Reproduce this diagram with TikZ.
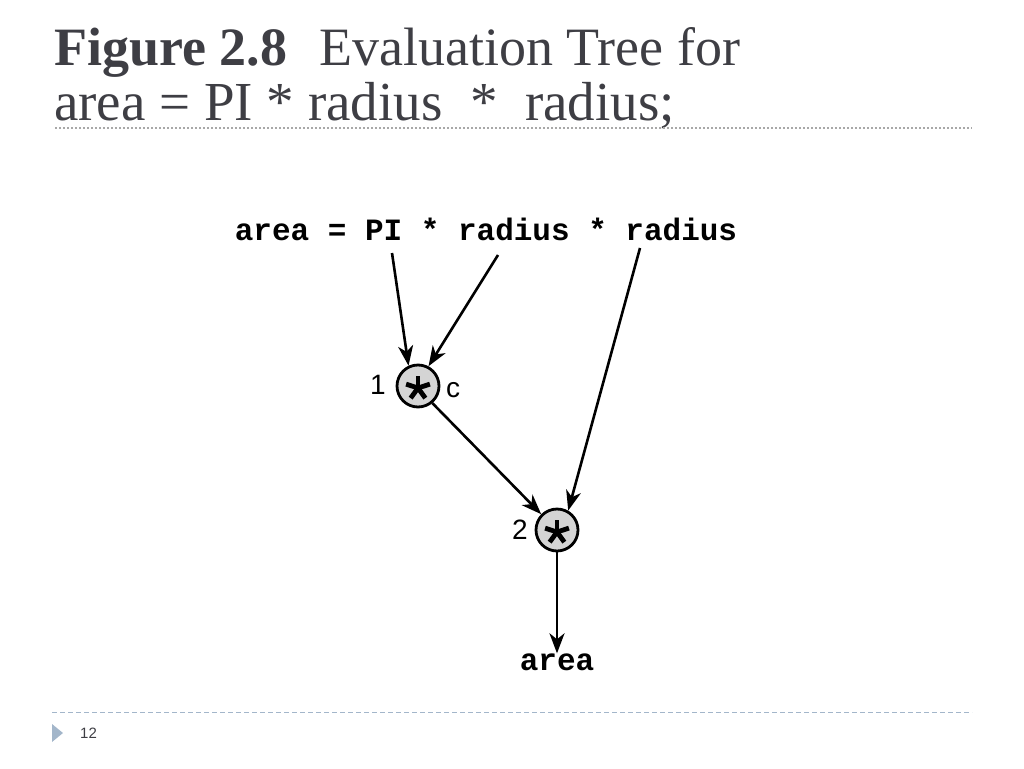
\documentclass[tikz,border=0pt]{standalone}
\usepackage{fontspec}
\setmainfont{Liberation Serif}
\setsansfont{Liberation Sans}
\setmonofont{Liberation Mono}
\usetikzlibrary{arrows.meta,calc}
\definecolor{titlegray}{HTML}{3E3E44}
\definecolor{rulegray}{HTML}{A8A8A8}
\definecolor{ruleblue}{HTML}{A3B6CA}
\definecolor{opfill}{HTML}{D4D4D4}
\tikzset{
  title/.style={anchor=base west, inner sep=0pt, text=titlegray, font=\fontsize{54}{60}\selectfont},
  code/.style={anchor=base, inner sep=0pt, font=\fontsize{31}{36}\selectfont\ttfamily\bfseries},
  opnode/.style={circle, draw=black, line width=2.8pt, fill=opfill, minimum size=42pt, inner sep=0pt},
  lbl/.style={inner sep=0pt, font=\fontsize{28}{32}\selectfont\sffamily},
  conn/.style={line width=2.6pt, -{Stealth[length=20pt,width=15pt,inset=6pt]}},
  astarm/.style={line width=4.8pt}
}
\begin{document}
\begin{tikzpicture}[x=1pt,y=-1pt]
\useasboundingbox (0,0) rectangle (1024,768);
% title
\node[title] (t1) at (54,66) {\textbf{Figure 2.8}\hspace{32pt}Evaluation Tree for};
\node[title, font=\fontsize{55}{60}\selectfont] (t2) at (54,120) {area = PI * radius\ \ *\ \ radius;};
\draw[rulegray, line width=1.2pt, dash pattern=on 2pt off 2pt] (55,128) -- (972,128);
% footer
\draw[ruleblue, line width=1pt, dash pattern=on 5pt off 3pt] (52,712) -- (972,712);
\fill[ruleblue] (52,724) -- (63,733) -- (52,742) -- cycle;
\node[anchor=base west, inner sep=0pt, text=titlegray, font=\fontsize{15}{18}\selectfont\sffamily] (pg) at (80,738) {12};
% expression
\node[code] (expr) at (486,240) {area = PI * radius * radius};
\coordinate (sPI) at (392,253);
\coordinate (sR1) at (498,255);
\coordinate (sR2) at (640,248);
% operator nodes
\node[opnode] (n1) at (418,386) {};
\node[opnode] (n2) at (557,530) {};
\foreach \n in {n1,n2}{
  \foreach \a in {90,18,162,234,306}{
    \draw[astarm] ($(\n.center)+(0,2)$) -- ++({12.5*cos(\a)},{-12.5*sin(\a)});
  }
}
\node[lbl] (l1) at (378,385) {1};
\node[lbl] (lc) at (453,390) {c};
\node[lbl] (l2) at (520,530) {2};
\node[code, anchor=center] (res) at (557,662) {area};
% connectors
\draw[conn] (sPI) -- (n1.115);
\draw[conn] (sR1) -- (n1.62);
\draw[conn] (sR2) -- (n2.60);
\draw[conn] (n1.-50) -- (n2.135);
\draw[conn] (n2.south) -- (res.north);
\end{tikzpicture}
\end{document}
